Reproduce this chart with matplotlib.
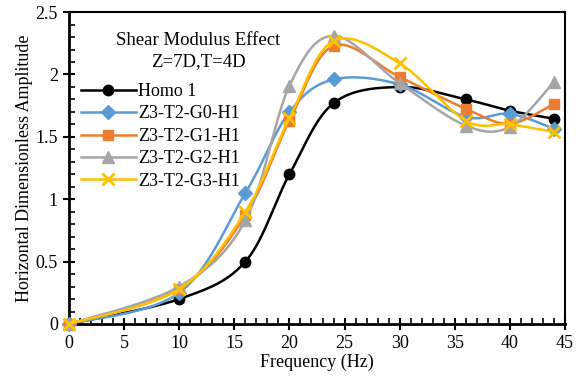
import numpy as np
import matplotlib
matplotlib.use('Agg')
import matplotlib.pyplot as plt
from matplotlib.lines import Line2D
from matplotlib.ticker import MultipleLocator

plt.rcParams['font.family'] = ['Liberation Serif', 'DejaVu Serif']

# Frequency (Hz) and amplitudes
freq = [0, 10, 16, 20, 24, 30, 36, 40, 44]
homo1 = [0, 0.20, 0.50, 1.20, 1.77, 1.90, 1.80, 1.71, 1.645]
g0 = [0, 0.25, 1.05, 1.70, 1.96, 1.92, 1.66, 1.685, 1.565]
g1 = [0, 0.28, 0.87, 1.63, 2.23, 1.98, 1.725, 1.605, 1.765]
g2 = [0, 0.30, 0.83, 1.91, 2.31, 1.93, 1.59, 1.58, 1.94]
g3 = [0, 0.28, 0.90, 1.65, 2.27, 2.09, 1.63, 1.60, 1.54]

labels = ['Homo 1', 'Z3-T2-G0-H1', 'Z3-T2-G1-H1', 'Z3-T2-G2-H1', 'Z3-T2-G3-H1']
series = [homo1, g0, g1, g2, g3]
colors = ['black', '#5B9BD5', '#ED7D31', '#A5A5A5', '#FFC000']
markers = ['o', 'D', 's', '^', 'x']
msizes = [7.5, 7, 7.5, 9, 9]


def smooth(x, y, n=40):
    # Excel-like smoothed line (Catmull-Rom through the points)
    pts = np.column_stack([x, y]).astype(float)
    out = [pts[0]]
    t = np.linspace(0, 1, n)[1:, None]
    for i in range(len(pts) - 1):
        p0 = pts[i - 1] if i > 0 else pts[i]
        p1, p2 = pts[i], pts[i + 1]
        p3 = pts[i + 2] if i + 2 < len(pts) else pts[i + 1]
        c1 = p1 + (p2 - p0) / 6
        c2 = p2 - (p3 - p1) / 6
        seg = (1 - t)**3 * p1 + 3 * (1 - t)**2 * t * c1 + 3 * (1 - t) * t**2 * c2 + t**3 * p2
        out.extend(seg)
    out = np.array(out)
    return out[:, 0], out[:, 1]


fig = plt.figure(figsize=(5.78, 3.78), dpi=100)
ax = fig.add_axes([0.1194, 0.1429, 0.8581, 0.8251])

handles = []
for k, (vals, col, mk, ms) in enumerate(zip(series, colors, markers, msizes)):
    sx, sy = smooth(freq, vals)
    ax.plot(sx, sy, color=col, lw=1.8, zorder=3 + k)
    mew = 2 if mk == 'x' else 1
    ax.plot(freq, vals, ls='none', marker=mk, ms=ms, color=col, mec=col, mew=mew, zorder=3 + k,
            clip_on=False)
    handles.append(Line2D([], [], color=col, lw=1.8, marker=mk, ms=ms, mew=mew))

ax.set_xlim(0, 45)
ax.set_ylim(0, 2.5)
ax.xaxis.set_major_locator(MultipleLocator(5))
ax.xaxis.set_minor_locator(MultipleLocator(1))
ax.yaxis.set_major_locator(MultipleLocator(0.5))
ax.yaxis.set_minor_locator(MultipleLocator(0.1))
ax.yaxis.set_major_formatter(plt.FuncFormatter(lambda v, p: '%g' % v))
ax.tick_params(which='major', direction='inout', length=8, width=1.5, labelsize=13, pad=4)
ax.tick_params(which='minor', direction='in', length=4, width=1.2)
for side in ['left', 'bottom']:
    ax.spines[side].set_linewidth(2)
for side in ['top', 'right']:
    ax.spines[side].set_linewidth(1.5)

ax.set_xlabel('Frequency (Hz)', fontsize=13, labelpad=1)
ax.set_ylabel('Horizontal Dimensionless Amplitude', fontsize=13, labelpad=2)

# title block inside the plot (expanded letter spacing in the original)
ax.text(0.26, 0.91, 'Shear Modulus Effect', transform=ax.transAxes, ha='center', va='center',
        fontsize=13.5, fontstretch='expanded')
ax.text(0.26, 0.84, 'Z=7D,T=4D', transform=ax.transAxes, ha='center', va='center',
        fontsize=13.5)

ax.legend(handles, labels, loc='upper left', bbox_to_anchor=(0.014, 0.79), frameon=False,
          fontsize=13, handlelength=3.0, labelspacing=0.3, handletextpad=0.15,
          borderaxespad=0.2, borderpad=0.1)

fig.savefig('out.png', dpi=100)
